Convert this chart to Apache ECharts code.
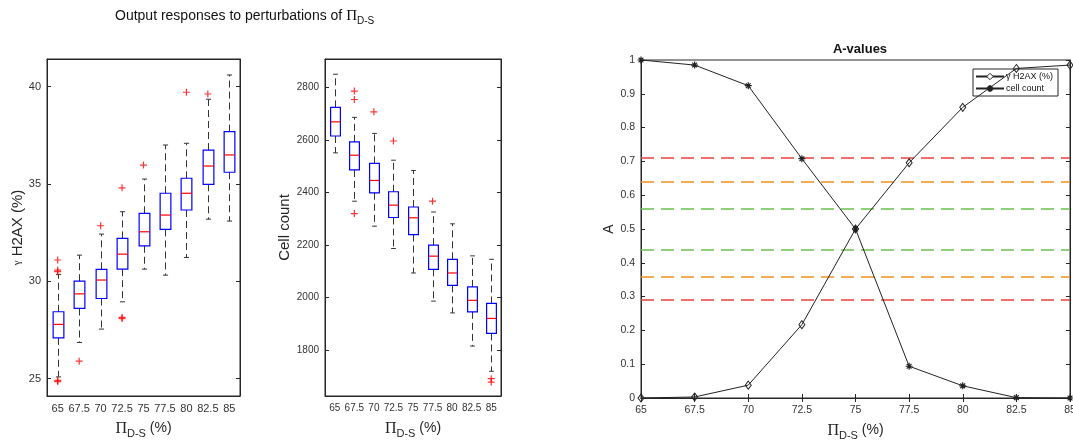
<!DOCTYPE html>
<html>
<head>
<meta charset="utf-8">
<script src="https://cdn.jsdelivr.net/npm/echarts@6/dist/echarts.min.js"></script>
<style>
html,body{margin:0;padding:0;background:#fff;}
#chart{width:1073px;height:442px;}
</style>
</head>
<body>
<div id="chart"></div>
<script>
// ---------- data ----------
var categories = ['65', '67.5', '70', '72.5', '75', '77.5', '80', '82.5', '85'];

// [lower whisker, Q1, median, Q3, upper whisker]
var h2axBoxes = [
  [25.08, 27.09, 27.78, 28.43, 30.35],
  [26.85, 28.60, 29.35, 30.00, 31.34],
  [27.54, 29.11, 30.06, 30.61, 32.42],
  [28.94, 30.62, 31.39, 32.20, 33.57],
  [30.62, 31.82, 32.54, 33.49, 35.25],
  [30.31, 32.66, 33.40, 34.52, 37.00],
  [31.22, 33.66, 34.52, 35.29, 37.09],
  [33.19, 34.98, 35.92, 36.74, 39.35],
  [33.09, 35.60, 36.49, 37.69, 40.60]
];
var h2axOutliers = [
  [0, 31.09], [0, 30.57], [0, 30.49], [0, 24.90], [0, 24.84],
  [1, 25.89], [2, 32.85], [3, 34.80], [3, 28.14], [3, 28.08],
  [4, 35.97], [6, 39.71], [7, 39.62]
];

var cellBoxes = [
  [2551, 2615, 2669, 2724, 2850],
  [2367, 2486, 2542, 2593, 2686],
  [2272, 2399, 2446, 2511, 2625],
  [2187, 2305, 2352, 2403, 2523],
  [2094, 2240, 2304, 2345, 2484],
  [1987, 2108, 2158, 2200, 2326],
  [1942, 2047, 2094, 2146, 2281],
  [1816, 1946, 1990, 2041, 2159],
  [1720, 1864, 1921, 1978, 2146]
];
var cellOutliers = [
  [1, 2786], [1, 2754], [1, 2320], [2, 2707], [3, 2596],
  [5, 2367], [8, 1692], [8, 1679]
];

var h2axTicks = [25, 30, 35, 40];
var cellTicks = [1800, 2000, 2200, 2400, 2600, 2800];

var perturb = [65, 67.5, 70, 72.5, 75, 77.5, 80, 82.5, 85];
var aH2ax = [0, 0.003, 0.038, 0.217, 0.5, 0.696, 0.86, 0.975, 0.985];
var aCell = [1.0, 0.985, 0.924, 0.708, 0.5, 0.094, 0.036, 0.001, 0.0];

var thresholds = [0.71, 0.64, 0.56, 0.44, 0.36, 0.29];
var thresholdColors = ['#e8413c', '#f0901e', '#6cc04e', '#6cc04e', '#f0901e', '#e8413c'];

// ---------- helpers ----------
var AX = '#262626';
var FONT = "'Liberation Sans', Arial, Helvetica, sans-serif";

function boxData(boxes) {
  return boxes.map(function (b, i) { return [i].concat(b); });
}

function renderBox(params, api) {
  var i = api.value(0);
  var lo = api.coord([i, api.value(1)]);
  var q1 = api.coord([i, api.value(2)]);
  var md = api.coord([i, api.value(3)]);
  var q3 = api.coord([i, api.value(4)]);
  var hi = api.coord([i, api.value(5)]);
  var band = api.size([1, 0])[0];
  var hw = band * 0.25;
  var cw = band * 0.12;
  var x = Math.round(md[0]) + 0.5;
  var wh = {stroke: '#333', lineWidth: 1, lineDash: [7, 4]};
  var cap = {stroke: '#333', lineWidth: 1};
  return {
    type: 'group',
    children: [
      {type: 'line', shape: {x1: x, y1: q3[1], x2: x, y2: hi[1]}, style: wh},
      {type: 'line', shape: {x1: x, y1: q1[1], x2: x, y2: lo[1]}, style: wh},
      {type: 'line', shape: {x1: x - cw, y1: hi[1], x2: x + cw, y2: hi[1]}, style: cap},
      {type: 'line', shape: {x1: x - cw, y1: lo[1], x2: x + cw, y2: lo[1]}, style: cap},
      {type: 'rect', shape: {x: x - hw, y: q3[1], width: 2 * hw, height: q1[1] - q3[1]},
        style: {fill: 'none', stroke: '#0000ff', lineWidth: 1.2}},
      {type: 'line', shape: {x1: x - hw, y1: md[1], x2: x + hw, y2: md[1]},
        style: {stroke: '#ff0000', lineWidth: 1.2}}
    ]
  };
}

var plusPath = 'path://M0,5L10,5M5,0L5,10';
var starPath = 'path://M5,0L5,10M0,5L10,5M1.6,1.6L8.4,8.4M1.6,8.4L8.4,1.6';

function xName() {
  return '{p|\u03A0}{s|D-S}{n| (%)}';
}
var xNameRich = {
  p: {fontFamily: "'Liberation Serif', serif", fontSize: 16, color: '#262626'},
  s: {fontFamily: FONT, fontSize: 11, color: '#262626', padding: [10, 0, 0, 0]},
  n: {fontFamily: FONT, fontSize: 14, color: '#262626'}
};

function plainNum(v) { return String(v); }

function catX(grid, fs) {
  return [{
    type: 'category', gridIndex: grid, data: categories, boundaryGap: true,
    axisLine: {show: true, lineStyle: {color: AX}},
    axisTick: {inside: true, alignWithLabel: true, interval: 0, length: 4, lineStyle: {color: AX}},
    axisLabel: {interval: 0, fontSize: fs, color: '#333', fontFamily: FONT, margin: 7},
    splitLine: {show: false},
    name: xName(), nameLocation: 'middle', nameGap: 22,
    nameTextStyle: {rich: xNameRich}
  }, {
    type: 'category', gridIndex: grid, data: categories, boundaryGap: true, position: 'top',
    axisLine: {show: true, lineStyle: {color: AX}},
    axisTick: {inside: true, alignWithLabel: true, interval: 0, length: 4, lineStyle: {color: AX}},
    axisLabel: {show: false}, splitLine: {show: false}
  }];
}

function valY(grid, mn, mx, ticks, fs, name, gap, rich) {
  return [{
    type: 'value', gridIndex: grid, min: mn, max: mx,
    axisLine: {show: true, lineStyle: {color: AX}},
    axisTick: {show: true, inside: true, length: 4, customValues: ticks, lineStyle: {color: AX}},
    axisLabel: {fontSize: fs, color: '#333', fontFamily: FONT, customValues: ticks, margin: 6, formatter: plainNum},
    splitLine: {show: false},
    name: name, nameLocation: 'middle', nameGap: gap,
    nameTextStyle: {fontSize: 15, color: '#262626', fontFamily: FONT, rich: rich}
  }, {
    type: 'value', gridIndex: grid, min: mn, max: mx, position: 'right',
    axisLine: {show: true, lineStyle: {color: AX}},
    axisTick: {show: true, inside: true, length: 4, customValues: ticks, lineStyle: {color: AX}},
    axisLabel: {show: false}, splitLine: {show: false}
  }];
}

var xAxes = [].concat(catX(0, 11), catX(1, 10));
xAxes.push({
  type: 'value', gridIndex: 2, min: 65, max: 85, interval: 2.5,
  axisLine: {show: true, lineStyle: {color: AX}},
  axisTick: {inside: true, length: 4, lineStyle: {color: AX}},
  axisLabel: {fontSize: 10.5, color: '#333', fontFamily: FONT, margin: 7, formatter: plainNum},
  splitLine: {show: false},
  name: xName(), nameLocation: 'middle', nameGap: 22,
  nameTextStyle: {rich: xNameRich}
});
xAxes.push({
  type: 'value', gridIndex: 2, min: 65, max: 85, interval: 2.5, position: 'top',
  axisLine: {show: true, lineStyle: {color: AX}},
  axisTick: {inside: true, length: 4, lineStyle: {color: AX}},
  axisLabel: {show: false}, splitLine: {show: false}
});

var yAxes = [].concat(
  valY(0, 24.1, 41.42, h2axTicks, 11, '{g|\u03B3} H2AX (%)', 19,
    {g: {fontSize: 11, fontFamily: "'Liberation Serif', serif", color: '#262626'}}),
  valY(1, 1626, 2908, cellTicks, 10, 'Cell count', 27, {})
);
yAxes.push({
  type: 'value', gridIndex: 2, min: 0, max: 1, interval: 0.1,
  axisLine: {show: true, lineStyle: {color: AX}},
  axisTick: {inside: true, length: 4, lineStyle: {color: AX}},
  axisLabel: {fontSize: 10.5, color: '#333', fontFamily: FONT, margin: 6, formatter: plainNum},
  splitLine: {show: false},
  name: 'A', nameLocation: 'middle', nameGap: 18,
  nameTextStyle: {fontSize: 14, color: '#262626', fontFamily: FONT}
});
yAxes.push({
  type: 'value', gridIndex: 2, min: 0, max: 1, interval: 0.1, position: 'right',
  axisLine: {show: true, lineStyle: {color: AX}},
  axisTick: {inside: true, length: 4, lineStyle: {color: AX}},
  axisLabel: {show: false}, splitLine: {show: false}
});

var option = {
  animation: false,
  backgroundColor: '#fff',
  textStyle: {fontFamily: FONT},
  title: [{
    text: 'Output responses to perturbations of {p|\u03A0}{s|D-S}',
    left: 110, top: 2,
    textStyle: {
      fontSize: 14, fontWeight: 'normal', color: '#111', fontFamily: FONT,
      rich: {
        p: {fontFamily: "'Liberation Serif', serif", fontSize: 15, color: '#111'},
        s: {fontFamily: FONT, fontSize: 10, color: '#111', padding: [9, 0, 0, 0]}
      }
    }
  }, {
    text: 'A-values', left: 855, top: 38, textAlign: 'center',
    textStyle: {fontSize: 13, fontWeight: 'bold', color: '#111', fontFamily: FONT}
  }],
  legend: {
    show: true, orient: 'vertical', left: 973, top: 69,
    data: [
      {name: '\u03B3 H2AX (%)', itemStyle: {color: '#fff', borderColor: '#222', borderWidth: 1}},
      {name: 'cell count'}
    ],
    itemWidth: 28, itemHeight: 8, itemGap: 3,
    padding: [3, 5, 3, 2],
    borderColor: AX, borderWidth: 1, backgroundColor: '#fff',
    textStyle: {fontSize: 9, color: '#111', fontFamily: FONT, padding: [0, 0, 0, -3]}
  },
  grid: [
    {left: 47, top: 59, width: 193, height: 337, show: true, borderColor: AX, borderWidth: 1, backgroundColor: 'transparent', outerBoundsMode: 'none', containLabel: false},
    {left: 325, top: 59, width: 176, height: 337, show: true, borderColor: AX, borderWidth: 1, backgroundColor: 'transparent', outerBoundsMode: 'none', containLabel: false},
    {left: 641, top: 60, width: 429, height: 338, show: true, borderColor: AX, borderWidth: 1, backgroundColor: 'transparent', outerBoundsMode: 'none', containLabel: false}
  ],
  xAxis: xAxes,
  yAxis: yAxes,
  series: [
    {type: 'custom', xAxisIndex: 0, yAxisIndex: 0, renderItem: renderBox,
      encode: {x: 0, y: [1, 2, 3, 4, 5]}, data: boxData(h2axBoxes), z: 3},
    {type: 'scatter', xAxisIndex: 0, yAxisIndex: 0, data: h2axOutliers,
      symbol: plusPath, symbolSize: 7,
      itemStyle: {color: '#ff0000', borderColor: '#ff0000', borderWidth: 1.2}, z: 4},
    {type: 'custom', xAxisIndex: 2, yAxisIndex: 2, renderItem: renderBox,
      encode: {x: 0, y: [1, 2, 3, 4, 5]}, data: boxData(cellBoxes), z: 3},
    {type: 'scatter', xAxisIndex: 2, yAxisIndex: 2, data: cellOutliers,
      symbol: plusPath, symbolSize: 7,
      itemStyle: {color: '#ff0000', borderColor: '#ff0000', borderWidth: 1.2}, z: 4},
    {type: 'line', name: 'thresholds', xAxisIndex: 4, yAxisIndex: 4, data: [], z: 1,
      markLine: {
        silent: true, symbol: 'none', label: {show: false},
        data: thresholds.map(function (t, i) {
          return {yAxis: t, lineStyle: {color: thresholdColors[i], type: [13, 7], width: 1.6}};
        })
      }},
    {type: 'line', name: '\u03B3 H2AX (%)', xAxisIndex: 4, yAxisIndex: 4,
      data: perturb.map(function (p, i) { return [p, aH2ax[i]]; }),
      symbol: 'diamond', symbolSize: [6, 8], showAllSymbol: true,
      lineStyle: {color: '#222', width: 1},
      itemStyle: {color: 'rgba(255,255,255,0)', borderColor: '#222', borderWidth: 1}, z: 5},
    {type: 'line', name: 'cell count', xAxisIndex: 4, yAxisIndex: 4,
      data: perturb.map(function (p, i) { return [p, aCell[i]]; }),
      symbol: starPath, symbolSize: 7, showAllSymbol: true,
      lineStyle: {color: '#222', width: 1},
      itemStyle: {color: '#222', borderColor: '#222', borderWidth: 1.2}, z: 5}
  ]
};

var chart = echarts.init(document.getElementById('chart'), null, {renderer: 'canvas'});
chart.setOption(option);
</script>
</body>
</html>
